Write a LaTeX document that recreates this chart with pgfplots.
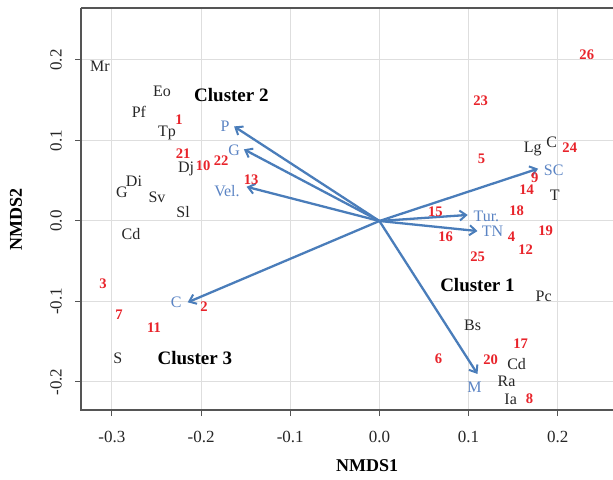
\documentclass[border=0pt]{standalone}
\usepackage{fontspec}
\setmainfont{Liberation Serif}
\usepackage{pgfplots}
\pgfplotsset{compat=1.18}
\usetikzlibrary{arrows.meta}
\definecolor{redn}{HTML}{E8232A}
\definecolor{bluet}{HTML}{5B84C4}
\definecolor{arrowb}{HTML}{4A7DBA}
\definecolor{axg}{HTML}{555555}
\begin{document}
\begin{tikzpicture}
\begin{axis}[
  name=ax,
  scale only axis,
  width=266bp, height=201bp,
  xmin=-0.3347, xmax=0.262,
  ymin=-0.2348, ymax=0.2646,
  clip=false,
  axis line style={draw=none},
  xtick={-0.3,-0.2,-0.1,0,0.1,0.2},
  xticklabels={-0.3,-0.2,-0.1,0.0,0.1,0.2},
  ytick={-0.2,-0.1,0,0.1,0.2},
  yticklabels={-0.2,-0.1,0.0,0.1,0.2},
  xtick pos=lower, ytick pos=left,
  tick align=outside,
  major tick length=3bp,
  tick style={axg, line width=0.5bp},
  ticklabel style={font=\fontsize{8.5bp}{10bp}\selectfont, text=black!85},
  xticklabel shift=4bp,
  yticklabel style={rotate=90, anchor=south},
  yticklabel shift=3bp,
  grid=major,
  major grid style={black!13, line width=0.5bp},
  xlabel={NMDS1}, ylabel={NMDS2},
  label style={font=\bfseries\fontsize{9bp}{11bp}\selectfont},
  xlabel style={at={(axis description cs:0.538,-0.139)}, anchor=center},
  ylabel style={at={(axis description cs:-0.122,0.475)}, anchor=center},
]
\draw[axg, line width=0.6bp] (rel axis cs:0,1) -- (rel axis cs:0,0) -- (rel axis cs:1,0);
\draw[axg, line width=0.6bp] (rel axis cs:0,1) -- (rel axis cs:1,1);

% arrows
\pgfplotsset{vec/.style={arrowb, line width=1.15bp, -{Straight Barb[length=3.2bp,width=5bp,line width=1bp]}, mark=none}}
\addplot[vec] coordinates {(0,0) (-0.163,0.1175)};
\addplot[vec] coordinates {(0,0) (-0.152,0.089)};
\addplot[vec] coordinates {(0,0) (-0.149,0.0425)};
\addplot[vec] coordinates {(0,0) (-0.215,-0.101)};
\addplot[vec] coordinates {(0,0) (0.178,0.065)};
\addplot[vec] coordinates {(0,0) (0.099,0.0075)};
\addplot[vec] coordinates {(0,0) (0.110,-0.0125)};
\addplot[vec] coordinates {(0,0) (0.110,-0.19)};

% blue variable labels
\addplot[only marks, mark=none, nodes near coords, point meta=explicit symbolic,
  nodes near coords style={anchor=center, font=\fontsize{8bp}{9bp}\selectfont, text=bluet}]
coordinates {
(-0.173,0.1175) [P]
(-0.163,0.0875) [G]
(-0.171,0.0375) [Vel.]
(-0.228,-0.101) [C]
(0.1955,0.0625) [SC]
(0.120,0.006) [Tur.]
(0.127,-0.0125) [TN]
(0.1067,-0.206) [M]
};

% black species labels
\addplot[only marks, mark=none, nodes near coords, point meta=explicit symbolic,
  nodes near coords style={anchor=center, font=\fontsize{8bp}{9bp}\selectfont, text=black!85}]
coordinates {
(-0.3135,0.1925) [Mr]
(-0.2438,0.161) [Eo]
(-0.2697,0.135) [Pf]
(-0.2382,0.109) [Tp]
(-0.2169,0.065) [Dj]
(-0.2753,0.050) [Di]
(-0.2888,0.036) [G]
(-0.2494,0.029) [Sv]
(-0.2202,0.011) [Sl]
(-0.2787,-0.016) [Cd]
(-0.2933,-0.171) [S]
(0.1719,0.090) [Lg]
(0.1933,0.0975) [C]
(0.1966,0.0325) [T]
(0.1843,-0.094) [Pc]
(0.1045,-0.130) [Bs]
(0.1539,-0.1775) [Cd]
(0.1427,-0.199) [Ra]
(0.1472,-0.221) [Ia]
};

% red site numbers
\addplot[only marks, mark=none, nodes near coords, point meta=explicit symbolic,
  nodes near coords style={anchor=center, font=\bfseries\fontsize{7.3bp}{8bp}\selectfont, text=redn}]
coordinates {
(-0.2247,0.126) [1]
(-0.1966,-0.106) [2]
(-0.3101,-0.0775) [3]
(0.1483,-0.019) [4]
(0.1146,0.0775) [5]
(0.0663,-0.171) [6]
(-0.2921,-0.116) [7]
(0.1685,-0.221) [8]
(0.1742,0.054) [9]
(-0.1978,0.069) [10]
(-0.2528,-0.1325) [11]
(0.1640,-0.036) [12]
(-0.1438,0.051) [13]
(0.1652,0.039) [14]
(0.0629,0.011) [15]
(0.0742,-0.020) [16]
(0.1584,-0.1525) [17]
(0.1539,0.0125) [18]
(0.1865,-0.0125) [19]
(0.1247,-0.1725) [20]
(-0.2202,0.084) [21]
(-0.1775,0.075) [22]
(0.1135,0.150) [23]
(0.2135,0.091) [24]
(0.1101,-0.044) [25]
(0.2326,0.206) [26]
};

% cluster labels
\addplot[only marks, mark=none, nodes near coords, point meta=explicit symbolic,
  nodes near coords style={anchor=center, font=\bfseries\fontsize{9.5bp}{11bp}\selectfont, text=black}]
coordinates {
(-0.166,0.156) [Cluster 2]
(0.110,-0.080) [Cluster 1]
(-0.207,-0.170) [Cluster 3]
};
\end{axis}
\pgfresetboundingbox
\path[use as bounding box] ([xshift=-40.5bp,yshift=-35bp]ax.south west) rectangle ([yshift=4bp]ax.north east);
\end{tikzpicture}
\end{document}
